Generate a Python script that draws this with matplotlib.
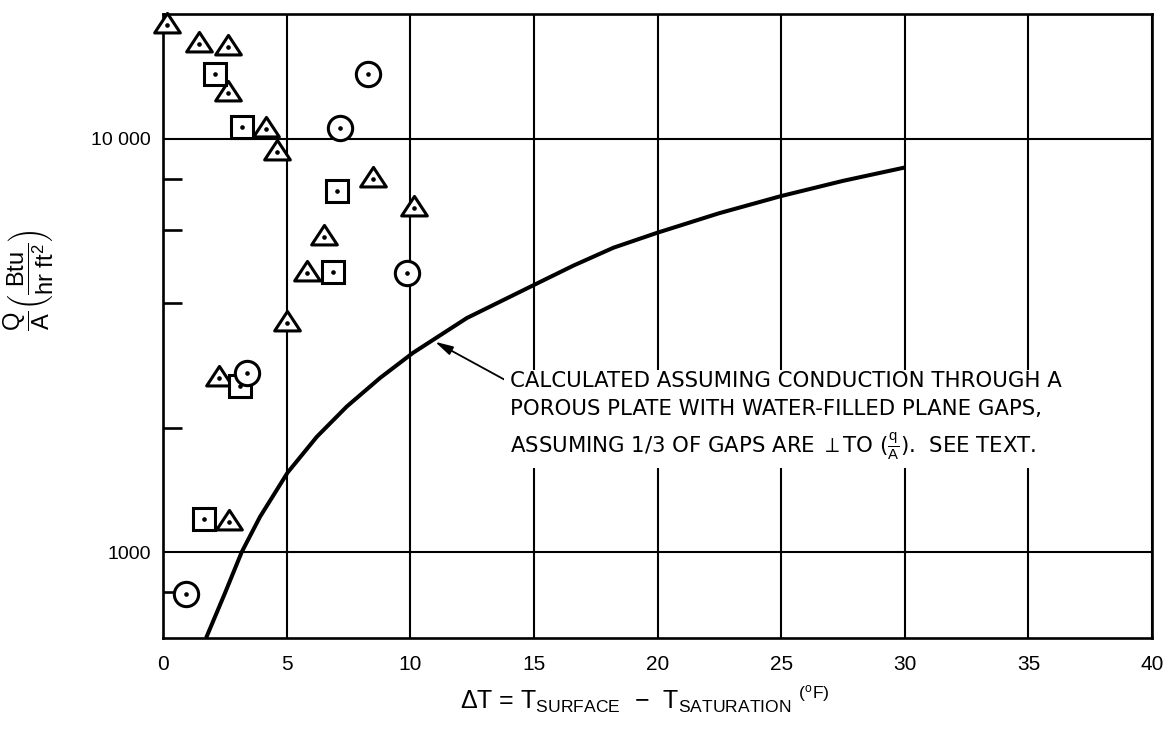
import matplotlib
matplotlib.use("Agg")
import matplotlib.pyplot as plt
from matplotlib.ticker import FixedLocator, NullFormatter
from matplotlib.path import Path

plt.rcParams["font.family"] = ["Liberation Sans", "DejaVu Sans"]
plt.rcParams["mathtext.fontset"] = "custom"
plt.rcParams["mathtext.rm"] = "Liberation Sans"
plt.rcParams["mathtext.it"] = "Liberation Sans:italic"
plt.rcParams["mathtext.bf"] = "Liberation Sans:bold"
plt.rcParams["mathtext.sf"] = "Liberation Sans"

# Measured boiling points: delta T (deg F) and heat flux q/A (Btu/hr ft2)
tri_dt = [0.17, 1.47, 2.62, 2.62, 4.18, 4.62, 8.51, 10.13, 6.53, 5.81, 5.02, 2.28, 2.66]
tri_q = [18830, 16880, 16630, 12880, 10570, 9280, 8000, 6810, 5770, 4730, 3590, 2640, 1183]

sq_dt = [2.09, 3.18, 7.03, 6.89, 3.12, 1.65]
sq_q = [14290, 10670, 7460, 4750, 2527, 1205]

circ_dt = [8.27, 7.16, 9.87, 3.38, 0.94]
circ_q = [14290, 10630, 4730, 2710, 793]

# Calculated conduction curve
calc_dt = [1.74, 2.5, 3.18, 3.92, 5.04, 6.22, 7.43, 8.78, 10.1, 12.29, 14.94,
           16.6, 18.22, 19.97, 22.5, 25.0, 27.5, 30.0]
calc_q = [620, 795, 1000, 1217, 1558, 1901, 2249, 2638, 3030, 3682, 4407,
          4930, 5446, 5913, 6600, 7260, 7900, 8510]

x_ticks = [0, 5, 10, 15, 20, 25, 30, 35, 40]
y_ticks = [1000, 10000]
y_tick_labels = ["1000", "10 000"]
y_minor = [800, 2000, 4000, 6000, 8000]

note = ("CALCULATED ASSUMING CONDUCTION THROUGH A\n"
        "POROUS PLATE WITH WATER-FILLED PLANE GAPS,\n"
        r"ASSUMING 1/3 OF GAPS ARE $\perp$TO ($\frac{\mathrm{q}}{\mathrm{A}}$).  SEE TEXT.")

fig = plt.figure(figsize=(11.68, 7.30), dpi=100)
ax = fig.add_axes([0.1396, 0.126, 0.8467, 0.8548])
ax.set_yscale("log")
ax.set_xlim(0, 40)
ax.set_ylim(620, 20000)

for s in ax.spines.values():
    s.set_linewidth(1.9)
    s.set_color("black")

ax.set_xticks(x_ticks)
ax.set_xticklabels([str(v) for v in x_ticks],
                   family=["Liberation Sans Narrow", "Liberation Sans", "DejaVu Sans"],
                   fontsize=15)
ax.tick_params(axis="x", length=0, pad=12)

ax.yaxis.set_major_locator(FixedLocator(y_ticks))
ax.set_yticklabels(y_tick_labels, fontsize=14)
ax.yaxis.set_minor_locator(FixedLocator(y_minor))
ax.yaxis.set_minor_formatter(NullFormatter())
ax.tick_params(axis="y", which="major", length=0, pad=9)
ax.tick_params(axis="y", which="minor", direction="in", length=14, width=1.9)

ax.xaxis.grid(True, color="black", lw=1.5)
ax.yaxis.grid(True, which="major", color="black", lw=1.5)
ax.set_axisbelow(True)

# Calculated curve
ax.plot(calc_dt, calc_q, color="black", lw=2.9, zorder=2,
        solid_capstyle="butt", solid_joinstyle="round")

# Data markers, each with a centre dot
tri_marker = Path([(0, 0.94), (-1, -0.58), (1, -0.58), (0, 0.94)],
                  [Path.MOVETO, Path.LINETO, Path.LINETO, Path.CLOSEPOLY])
style = dict(ls="none", mfc="white", mec="black", mew=2.2, zorder=3, clip_on=False)
ax.plot(tri_dt, tri_q, marker=tri_marker, ms=18.5, **style)
ax.plot(sq_dt, sq_q, marker="s", ms=16, **style)
ax.plot(circ_dt, circ_q, marker="o", ms=17.5, **style)
for xs, ys in ((tri_dt, tri_q), (sq_dt, sq_q), (circ_dt, circ_q)):
    ax.plot(xs, ys, ls="none", marker="o", ms=2.3, color="black", zorder=4,
            clip_on=False)

ax.annotate(note, xy=(11.0, 3226), xytext=(14.05, 2740),
            ha="left", va="top", fontsize=15.3, linespacing=1.5,
            family=["DejaVu Sans"],
            bbox=dict(boxstyle="square,pad=0.3", fc="white", ec="none"),
            arrowprops=dict(arrowstyle="-|>,head_length=0.7,head_width=0.18",
                            color="black", lw=1.3, relpos=(0, 0.87),
                            shrinkA=0, shrinkB=0),
            zorder=5)

ax.set_ylabel(r"$\dfrac{\mathrm{Q}}{\mathrm{A}}\left(\dfrac{\mathrm{Btu}}{\mathrm{hr\ ft}^{2}}\right)$",
              fontsize=17, va="center")
ax.yaxis.set_label_coords(-0.136, 0.574)

ax.set_xlabel(r"$\Delta$T = T$_{\mathrm{SURFACE}}$  $-$  T$_{\mathrm{SATURATION}}$ $^{(^{\mathrm{o}}\mathrm{F})}$",
              fontsize=18)
ax.xaxis.set_label_coords(0.487, -0.072)

fig.savefig("out.png", dpi=100, facecolor="white")
